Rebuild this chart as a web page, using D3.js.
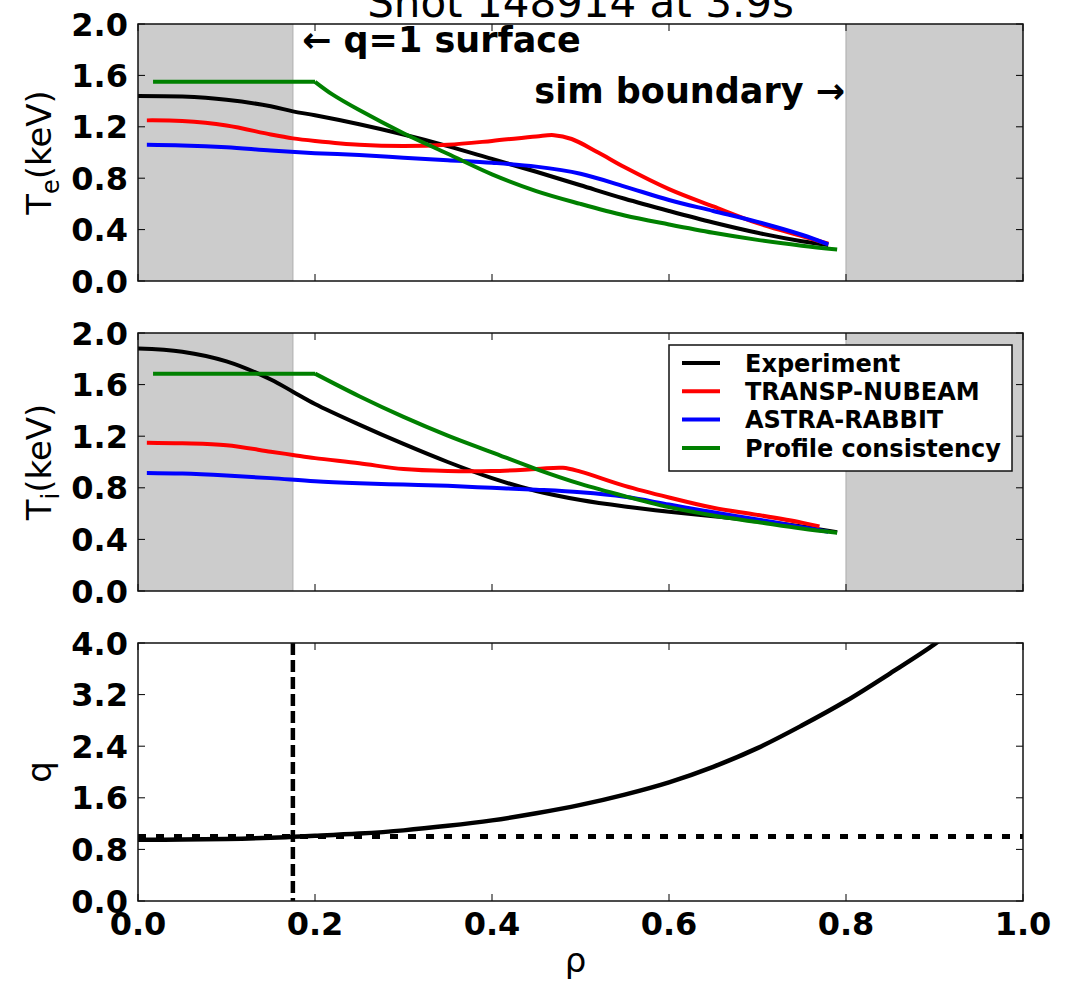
<!DOCTYPE html>
<html>
<head>
<meta charset="utf-8">
<script src="https://cdn.jsdelivr.net/npm/d3@7"></script>
<style>
  body { margin: 0; background: #fff; }
  svg { display: block; }
  text { font-family: "DejaVu Sans", sans-serif; fill: #000; }
</style>
</head>
<body>
<svg id="chart" width="1066" height="983"></svg>
<script>
// ---- profile data (rho = normalised toroidal flux radius) ----
const seriesNames  = ["Experiment", "TRANSP-NUBEAM", "ASTRA-RABBIT", "Profile consistency"];
const seriesColors = ["#000000", "#ff0000", "#0000ff", "#008000"];

// electron temperature (keV)
const teExpRho   = [0, 0.05, 0.1, 0.15, 0.175, 0.2, 0.25, 0.3, 0.35, 0.4, 0.45, 0.5, 0.55, 0.6, 0.65, 0.7, 0.75, 0.78];
const teExp      = [1.44, 1.435, 1.41, 1.36, 1.32, 1.29, 1.22, 1.14, 1.05, 0.95, 0.85, 0.745, 0.64, 0.545, 0.455, 0.375, 0.31, 0.28];
const teTranspRho = [0.01, 0.05, 0.1, 0.15, 0.175, 0.2, 0.25, 0.3, 0.35, 0.4, 0.45, 0.47, 0.49, 0.52, 0.55, 0.6, 0.65, 0.7, 0.75, 0.78];
const teTransp    = [1.25, 1.245, 1.21, 1.14, 1.11, 1.09, 1.06, 1.05, 1.06, 1.09, 1.125, 1.135, 1.105, 1.0, 0.885, 0.715, 0.58, 0.45, 0.35, 0.29];
const teAstraRho = [0.01, 0.05, 0.1, 0.15, 0.2, 0.25, 0.3, 0.35, 0.4, 0.45, 0.5, 0.55, 0.6, 0.65, 0.7, 0.75, 0.78];
const teAstra    = [1.06, 1.055, 1.04, 1.015, 0.995, 0.98, 0.96, 0.94, 0.92, 0.89, 0.835, 0.735, 0.63, 0.545, 0.46, 0.36, 0.285];
const teProfRho  = [0.017, 0.2, 0.22, 0.25, 0.3, 0.35, 0.4, 0.45, 0.5, 0.55, 0.6, 0.65, 0.7, 0.75, 0.79];
const teProf     = [1.55, 1.55, 1.45, 1.33, 1.15, 0.99, 0.83, 0.7, 0.6, 0.51, 0.44, 0.375, 0.32, 0.275, 0.245];

// ion temperature (keV)
const tiExpRho   = [0, 0.05, 0.1, 0.15, 0.175, 0.2, 0.25, 0.3, 0.35, 0.4, 0.45, 0.5, 0.55, 0.6, 0.65, 0.7, 0.75, 0.79];
const tiExp      = [1.88, 1.855, 1.78, 1.64, 1.545, 1.45, 1.29, 1.14, 1.0, 0.875, 0.775, 0.705, 0.655, 0.615, 0.58, 0.545, 0.5, 0.455];
const tiTranspRho = [0.01, 0.05, 0.1, 0.15, 0.175, 0.2, 0.25, 0.3, 0.35, 0.4, 0.45, 0.48, 0.5, 0.55, 0.6, 0.65, 0.7, 0.75, 0.77];
const tiTransp    = [1.15, 1.145, 1.13, 1.08, 1.055, 1.03, 0.99, 0.945, 0.93, 0.93, 0.945, 0.955, 0.925, 0.815, 0.725, 0.645, 0.59, 0.53, 0.5];
const tiAstraRho = [0.01, 0.05, 0.1, 0.15, 0.2, 0.25, 0.3, 0.35, 0.4, 0.45, 0.5, 0.55, 0.6, 0.65, 0.7, 0.75, 0.78];
const tiAstra    = [0.915, 0.91, 0.895, 0.875, 0.85, 0.835, 0.825, 0.815, 0.8, 0.785, 0.765, 0.73, 0.67, 0.61, 0.555, 0.495, 0.46];
const tiProfRho  = [0.017, 0.2, 0.25, 0.3, 0.35, 0.4, 0.45, 0.5, 0.55, 0.6, 0.65, 0.7, 0.75, 0.79];
const tiProf     = [1.685, 1.685, 1.51, 1.35, 1.205, 1.075, 0.945, 0.83, 0.735, 0.65, 0.585, 0.535, 0.485, 0.452];

// safety factor
const qRho = [0, 0.05, 0.1, 0.15, 0.175, 0.2, 0.25, 0.3, 0.35, 0.4, 0.45, 0.5, 0.55, 0.6, 0.65, 0.7, 0.75, 0.8, 0.85, 0.9, 0.92];
const qVal = [0.95, 0.952, 0.96, 0.98, 0.995, 1.01, 1.045, 1.095, 1.165, 1.25, 1.36, 1.49, 1.65, 1.84, 2.08, 2.37, 2.72, 3.1, 3.53, 3.98, 4.2];

// markers
const q1SurfaceRho    = 0.175;  // q = 1 surface
const simBoundaryRho  = 0.8;    // simulation boundary
const pedestalKinkRho = 0.2;    // profile-consistency model is flat inside this radius

// ticks
const xTicks    = [0, 0.2, 0.4, 0.6, 0.8, 1.0];
const tempTicks = [0, 0.4, 0.8, 1.2, 1.6, 2.0];
const qTicks    = [0, 0.8, 1.6, 2.4, 3.2, 4.0];

const titleText = "Shot 148914 at 3.9s";

// ---- layout ----
const svg = d3.select("#chart");
const X0 = 138, X1 = 1023;
const FONT_TICK = 32;
const x = d3.scaleLinear().domain([0, 1]).range([X0, X1]);

const zip = (r, v) => r.map((d, i) => [d, v[i]]);

const panels = [
  { id: "te", top: 24,  bottom: 281, domain: [0, 2], ticks: tempTicks, shade: true,  showX: false },
  { id: "ti", top: 333, bottom: 591, domain: [0, 2], ticks: tempTicks, shade: true,  showX: false },
  { id: "q",  top: 643, bottom: 901, domain: [0, 4], ticks: qTicks,    shade: false, showX: true }
];

panels.forEach(p => {
  p.y = d3.scaleLinear().domain(p.domain).range([p.bottom, p.top]);
  p.g = svg.append("g");
  p.g.append("clipPath").attr("id", "clip-" + p.id)
    .append("rect").attr("x", X0).attr("y", p.top).attr("width", X1 - X0).attr("height", p.bottom - p.top);
  if (p.shade) {
    [[0, q1SurfaceRho], [simBoundaryRho, 1]].forEach(([a, b]) => {
      p.g.append("rect")
        .attr("x", x(a)).attr("y", p.top)
        .attr("width", x(b) - x(a)).attr("height", p.bottom - p.top)
        .attr("fill", "#cccccc");
    });
    [q1SurfaceRho, simBoundaryRho].forEach(r => {
      p.g.append("line").attr("x1", x(r)).attr("x2", x(r)).attr("y1", p.top).attr("y2", p.bottom)
        .attr("stroke", "#b4b4b4").attr("stroke-width", 1.2);
    });
  }
  p.plot = p.g.append("g").attr("clip-path", `url(#clip-${p.id})`);
});

const smoothCurve = d3.curveCatmullRom.alpha(0.5);

function drawProfile(p, pts, color, kinkRho, width = 4) {
  const line = d3.line().x(d => x(d[0])).y(d => p.y(d[1]));
  const attrs = sel => sel.attr("fill", "none").attr("stroke", color)
    .attr("stroke-width", width).attr("stroke-linejoin", "round").attr("stroke-linecap", "butt");
  if (kinkRho !== undefined) {
    const flat = pts.filter(d => d[0] <= kinkRho);
    const fall = pts.filter(d => d[0] >= kinkRho);
    p.plot.append("path").attr("d", line.curve(d3.curveLinear)(flat)).call(attrs);
    p.plot.append("path").attr("d", line.curve(smoothCurve)(fall)).call(attrs);
  } else {
    p.plot.append("path").attr("d", line.curve(smoothCurve)(pts)).call(attrs);
  }
}

// Te
drawProfile(panels[0], zip(teExpRho, teExp), seriesColors[0]);
drawProfile(panels[0], zip(teTranspRho, teTransp), seriesColors[1]);
drawProfile(panels[0], zip(teAstraRho, teAstra), seriesColors[2]);
drawProfile(panels[0], zip(teProfRho, teProf), seriesColors[3], pedestalKinkRho);
// Ti
drawProfile(panels[1], zip(tiExpRho, tiExp), seriesColors[0]);
drawProfile(panels[1], zip(tiTranspRho, tiTransp), seriesColors[1]);
drawProfile(panels[1], zip(tiAstraRho, tiAstra), seriesColors[2]);
drawProfile(panels[1], zip(tiProfRho, tiProf), seriesColors[3], pedestalKinkRho);

// q panel: reference lines and profile
const pq = panels[2];
pq.plot.append("line")
  .attr("x1", x(0)).attr("x2", x(1)).attr("y1", pq.y(1)).attr("y2", pq.y(1))
  .attr("stroke", "#000").attr("stroke-width", 5).attr("stroke-dasharray", "8,10");
pq.plot.append("line")
  .attr("x1", x(q1SurfaceRho)).attr("x2", x(q1SurfaceRho)).attr("y1", pq.top).attr("y2", pq.bottom)
  .attr("stroke", "#000").attr("stroke-width", 4.5).attr("stroke-dasharray", "12,5");
drawProfile(pq, zip(qRho, qVal), "#000", undefined, 4.5);

// ---- frames, ticks, tick labels ----
panels.forEach(p => {
  const g = p.g;
  const tk = 7;
  xTicks.forEach(t => {
    g.append("line").attr("x1", x(t)).attr("x2", x(t)).attr("y1", p.bottom).attr("y2", p.bottom - tk)
      .attr("stroke", "#000").attr("stroke-width", 1);
    g.append("line").attr("x1", x(t)).attr("x2", x(t)).attr("y1", p.top).attr("y2", p.top + tk)
      .attr("stroke", "#000").attr("stroke-width", 1);
    if (p.showX) {
      g.append("text").attr("x", x(t)).attr("y", p.bottom + 34)
        .attr("text-anchor", "middle").attr("font-size", FONT_TICK).attr("font-weight", "bold")
        .text(d3.format(".1f")(t));
    }
  });
  p.ticks.forEach(t => {
    g.append("line").attr("x1", X0).attr("x2", X0 + tk).attr("y1", p.y(t)).attr("y2", p.y(t))
      .attr("stroke", "#000").attr("stroke-width", 1);
    g.append("line").attr("x1", X1).attr("x2", X1 - tk).attr("y1", p.y(t)).attr("y2", p.y(t))
      .attr("stroke", "#000").attr("stroke-width", 1);
    g.append("text").attr("x", 128).attr("y", p.y(t)).attr("dy", "0.36em")
      .attr("text-anchor", "end").attr("font-size", FONT_TICK).attr("font-weight", "bold")
      .text(d3.format(".1f")(t));
  });
  g.append("rect").attr("x", X0).attr("y", p.top).attr("width", X1 - X0).attr("height", p.bottom - p.top)
    .attr("fill", "none").attr("stroke", "#111").attr("stroke-width", 1.5);
});

// ---- axis labels ----
function yLabel(p, main, sub) {
  const cy = (p.top + p.bottom) / 2;
  const t = svg.append("text").attr("transform", `translate(51,${cy}) rotate(-90)`)
    .attr("text-anchor", "middle").attr("font-size", 34);
  t.append("tspan").text(main);
  if (sub) {
    t.append("tspan").attr("font-size", 24).attr("dy", 8).text(sub);
    t.append("tspan").attr("dy", -8).text("(keV)");
  }
}
yLabel(panels[0], "T", "e");
yLabel(panels[1], "T", "i");
yLabel(panels[2], "q");

svg.append("text").attr("x", x(0.5) - 5).attr("y", 972).attr("text-anchor", "middle")
  .attr("font-size", 34).text("ρ");

// title
svg.append("text").attr("x", x(0.5)).attr("y", 17).attr("text-anchor", "middle")
  .attr("font-size", 42).text(titleText);

// annotations
svg.append("text").attr("x", 302).attr("y", 52).attr("font-size", 35).attr("font-weight", "bold")
  .text("← q=1 surface");
svg.append("text").attr("x", 845).attr("y", 103).attr("text-anchor", "end")
  .attr("font-size", 35).attr("font-weight", "bold").text("sim boundary →");

// ---- legend ----
const lg = svg.append("g");
lg.append("rect").attr("x", 669).attr("y", 345).attr("width", 343).attr("height", 126)
  .attr("fill", "#fff").attr("stroke", "#111").attr("stroke-width", 1.5);
seriesNames.forEach((name, i) => {
  const cy = 363 + i * 28.3;
  lg.append("line").attr("x1", 682).attr("x2", 720).attr("y1", cy).attr("y2", cy)
    .attr("stroke", seriesColors[i]).attr("stroke-width", 4);
  lg.append("text").attr("x", 745).attr("y", cy).attr("dy", "0.36em")
    .attr("font-size", 24).attr("font-weight", "bold").text(name);
});
</script>
</body>
</html>
